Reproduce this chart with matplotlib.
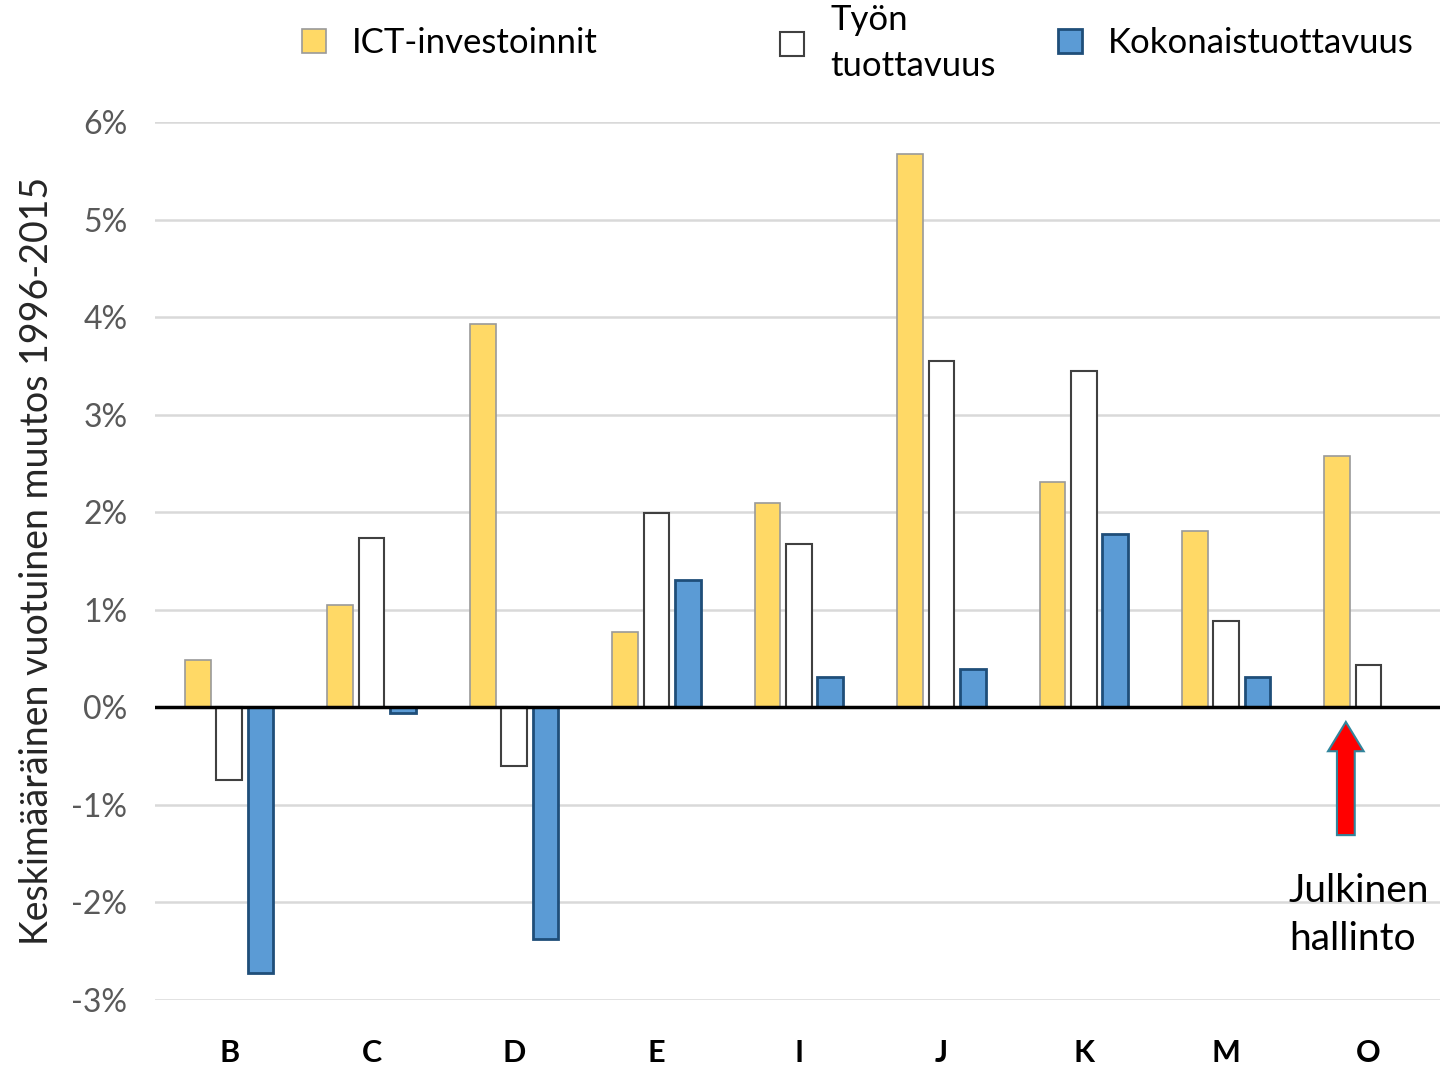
import matplotlib
matplotlib.use("Agg")
import matplotlib.pyplot as plt
import numpy as np
from matplotlib.patches import FancyArrow, Patch

categories = ["B", "C", "D", "E", "I", "J", "K", "M", "O"]
ict = [0.49, 1.05, 3.93, 0.77, 2.09, 5.67, 2.31, 1.81, 2.58]
tyon = [-0.74, 1.74, -0.60, 1.99, 1.67, 3.55, 3.45, 0.88, 0.43]
koko = [-2.72, -0.06, -2.37, 1.31, 0.31, 0.39, 1.78, 0.31, np.nan]
yticks = [-3, -2, -1, 0, 1, 2, 3, 4, 5, 6]
ytick_labels = ["-3%", "-2%", "-1%", "0%", "1%", "2%", "3%", "4%", "5%", "6%"]
series_labels = ["ICT-investoinnit", "Työn\ntuottavuus", "Kokonaistuottavuus"]

plt.rcParams['font.family'] = ['Lato', 'DejaVu Sans']

fig = plt.figure(figsize=(14.5, 10.71), dpi=100)
ax = fig.add_axes([0.107, 0.0663, 0.886, 0.8198])

x = np.arange(len(categories))
off = 0.22
w = 0.18
ax.bar(x - off, ict, w, color="#FFD966", edgecolor="#9a9a9a", linewidth=1.2, zorder=3)
ax.bar(x, tyon, w, color="white", edgecolor="#404040", linewidth=1.5, zorder=3)
ax.bar(x + off, koko, w, color="#5B9BD5", edgecolor="#1F4E79", linewidth=2, zorder=3)

ax.set_xlim(-0.52, len(categories) - 0.5)
ax.set_ylim(-3, 6)
ax.set_yticks(yticks)
ax.set_yticklabels(ytick_labels, fontsize=23, color="#595959")
ax.set_xticks(x)
ax.set_xticklabels(categories, fontsize=22, fontweight="bold", color="black")
ax.tick_params(axis='y', length=0, pad=20)
ax.tick_params(axis='x', length=0, pad=28)
for s in ax.spines.values():
    s.set_visible(False)
ax.grid(axis='y', color="#d9d9d9", linewidth=1.8, zorder=0)
ax.axhline(0, color="black", linewidth=2.5, zorder=4)
ax.set_ylabel("Keskimääräinen vuotuinen muutos 1996-2015", fontsize=27, color="#262626", labelpad=12)

# arrow and annotation
arr = FancyArrow(7.84, -1.31, 0, 1.16, width=0.125, head_width=0.25, head_length=0.3,
                 length_includes_head=True, facecolor="red", edgecolor="#31859C",
                 linewidth=1.5, zorder=5)
ax.add_patch(arr)
ax.text(7.44, -2.13, "Julkinen\nhallinto", fontsize=28, color="black", ha="left", va="center",
        linespacing=1.42, clip_on=False)

# legends
handles = [Patch(facecolor="#FFD966", edgecolor="#9a9a9a", linewidth=1.2),
           Patch(facecolor="white", edgecolor="#404040", linewidth=1.5),
           Patch(facecolor="#5B9BD5", edgecolor="#1F4E79", linewidth=2)]
positions = [(302 / 1450, 1 - 43 / 1071), (780 / 1450, 1 - 43 / 1071), (1058 / 1450, 1 - 43 / 1071)]
for h, lab, pos in zip(handles, series_labels, positions):
    leg = fig.legend([h], [lab], loc="center left", bbox_to_anchor=pos, frameon=False,
                     fontsize=25, handlelength=0.7, handleheight=0.7, handletextpad=0.75,
                     borderpad=0, borderaxespad=0)
    for t in leg.get_texts():
        t.set_linespacing(1.5)

fig.savefig("out.png", dpi=100, facecolor="white")
